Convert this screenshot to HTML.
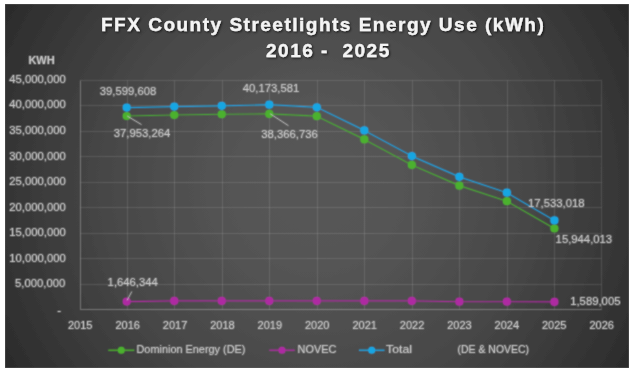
<!DOCTYPE html>
<html><head><meta charset="utf-8"><style>
html,body{margin:0;padding:0;background:#fff;width:634px;height:374px;overflow:hidden}
svg{display:block;will-change:transform;font-family:"Liberation Sans",sans-serif}
</style></head><body>
<svg width="634" height="374" viewBox="0 0 634 374">
<defs>
<radialGradient id="bg" gradientUnits="userSpaceOnUse" cx="317" cy="185.5" r="361">
<stop offset="0.00" stop-color="#575757"/><stop offset="0.20" stop-color="#555555"/><stop offset="0.40" stop-color="#4f4f4f"/><stop offset="0.60" stop-color="#464646"/><stop offset="0.80" stop-color="#393939"/><stop offset="0.90" stop-color="#323232"/><stop offset="1.00" stop-color="#2a2a2a"/>
</radialGradient>
<filter id="sh" x="-10%" y="-50%" width="120%" height="200%"><feGaussianBlur in="SourceAlpha" stdDeviation="0.8"/><feOffset dx="0.8" dy="0.8"/><feComponentTransfer><feFuncA type="linear" slope="0.7"/></feComponentTransfer><feMerge><feMergeNode/><feMergeNode in="SourceGraphic"/></feMerge></filter>
<filter id="soft" x="0" y="0" width="634" height="374" filterUnits="userSpaceOnUse"><feConvolveMatrix order="3" kernelMatrix="1 2 1 2 10 2 1 2 1" preserveAlpha="true" edgeMode="duplicate"/></filter>
</defs>
<g filter="url(#soft)">
<rect x="0" y="0" width="634" height="374" fill="#777777"/>
<rect x="5" y="4" width="624" height="364" fill="url(#bg)"/>
<g>
<g stroke="#ffffff" stroke-opacity="0.11" stroke-width="1"><line x1="80.5" y1="284.5" x2="601.5" y2="284.5"/><line x1="80.5" y1="258.5" x2="601.5" y2="258.5"/><line x1="80.5" y1="233.5" x2="601.5" y2="233.5"/><line x1="80.5" y1="207.5" x2="601.5" y2="207.5"/><line x1="80.5" y1="182.5" x2="601.5" y2="182.5"/><line x1="80.5" y1="156.5" x2="601.5" y2="156.5"/><line x1="80.5" y1="131.5" x2="601.5" y2="131.5"/><line x1="80.5" y1="105.5" x2="601.5" y2="105.5"/><line x1="80.5" y1="80.5" x2="601.5" y2="80.5"/><line x1="127.5" y1="80.5" x2="127.5" y2="309.5"/><line x1="174.5" y1="80.5" x2="174.5" y2="309.5"/><line x1="222.5" y1="80.5" x2="222.5" y2="309.5"/><line x1="269.5" y1="80.5" x2="269.5" y2="309.5"/><line x1="317.5" y1="80.5" x2="317.5" y2="309.5"/><line x1="364.5" y1="80.5" x2="364.5" y2="309.5"/><line x1="412.5" y1="80.5" x2="412.5" y2="309.5"/><line x1="459.5" y1="80.5" x2="459.5" y2="309.5"/><line x1="507.5" y1="80.5" x2="507.5" y2="309.5"/><line x1="554.5" y1="80.5" x2="554.5" y2="309.5"/><line x1="601.5" y1="80.5" x2="601.5" y2="309.5"/></g>
<g stroke="#ffffff" stroke-opacity="0.26" stroke-width="1">
<line x1="80.5" y1="80.5" x2="80.5" y2="309.5"/>
<line x1="80.5" y1="309.5" x2="601.5" y2="309.5"/>
</g>
<g fill="none" stroke-width="1.15" stroke-linejoin="round">
<polyline points="126.72,116.01 174.24,115.01 221.76,114.24 269.28,113.90 316.80,116.18 364.32,139.39 411.84,164.94 459.36,185.64 506.88,201.18 554.40,228.51" stroke="#4AA533"/>
<polyline points="126.72,301.59 174.24,300.90 221.76,300.90 269.28,300.90 316.80,300.90 364.32,300.90 411.84,300.90 459.36,301.72 506.88,301.72 554.40,301.88" stroke="#A62A9A"/>
<polyline points="126.72,107.60 174.24,106.57 221.76,105.81 269.28,104.66 316.80,107.34 364.32,130.39 411.84,156.10 459.36,176.85 506.88,192.70 554.40,220.39" stroke="#1A9BD3"/>
</g>
<circle cx="126.72" cy="116.01" r="4.1" fill="#4CB12E"/><circle cx="174.24" cy="115.01" r="4.1" fill="#4CB12E"/><circle cx="221.76" cy="114.24" r="4.1" fill="#4CB12E"/><circle cx="269.28" cy="113.90" r="4.1" fill="#4CB12E"/><circle cx="316.80" cy="116.18" r="4.1" fill="#4CB12E"/><circle cx="364.32" cy="139.39" r="4.1" fill="#4CB12E"/><circle cx="411.84" cy="164.94" r="4.1" fill="#4CB12E"/><circle cx="459.36" cy="185.64" r="4.1" fill="#4CB12E"/><circle cx="506.88" cy="201.18" r="4.1" fill="#4CB12E"/><circle cx="554.40" cy="228.51" r="4.1" fill="#4CB12E"/><circle cx="126.72" cy="301.59" r="4.1" fill="#AE2AA2"/><circle cx="174.24" cy="300.90" r="4.1" fill="#AE2AA2"/><circle cx="221.76" cy="300.90" r="4.1" fill="#AE2AA2"/><circle cx="269.28" cy="300.90" r="4.1" fill="#AE2AA2"/><circle cx="316.80" cy="300.90" r="4.1" fill="#AE2AA2"/><circle cx="364.32" cy="300.90" r="4.1" fill="#AE2AA2"/><circle cx="411.84" cy="300.90" r="4.1" fill="#AE2AA2"/><circle cx="459.36" cy="301.72" r="4.1" fill="#AE2AA2"/><circle cx="506.88" cy="301.72" r="4.1" fill="#AE2AA2"/><circle cx="554.40" cy="301.88" r="4.1" fill="#AE2AA2"/><circle cx="126.72" cy="107.60" r="4.1" fill="#18A6E3"/><circle cx="174.24" cy="106.57" r="4.1" fill="#18A6E3"/><circle cx="221.76" cy="105.81" r="4.1" fill="#18A6E3"/><circle cx="269.28" cy="104.66" r="4.1" fill="#18A6E3"/><circle cx="316.80" cy="107.34" r="4.1" fill="#18A6E3"/><circle cx="364.32" cy="130.39" r="4.1" fill="#18A6E3"/><circle cx="411.84" cy="156.10" r="4.1" fill="#18A6E3"/><circle cx="459.36" cy="176.85" r="4.1" fill="#18A6E3"/><circle cx="506.88" cy="192.70" r="4.1" fill="#18A6E3"/><circle cx="554.40" cy="220.39" r="4.1" fill="#18A6E3"/>
<g stroke="#c4c4c4" stroke-width="0.9">
<line x1="127.2" y1="116" x2="141.5" y2="124.6"/>
<line x1="270.2" y1="113.8" x2="288.5" y2="125.7"/>
<line x1="127.2" y1="300.3" x2="131.8" y2="291.5"/>
</g>
<g stroke-width="1.3">
<line x1="108.3" y1="350.2" x2="134.3" y2="350.2" stroke="#4CB12E"/>
<line x1="269.3" y1="350.2" x2="294.7" y2="350.2" stroke="#AE2AA2"/>
<line x1="359" y1="350.2" x2="384.5" y2="350.2" stroke="#18A6E3"/>
</g>
<circle cx="121.3" cy="350.2" r="3.5" fill="#4CB12E"/>
<circle cx="282" cy="350.2" r="3.5" fill="#AE2AA2"/>
<circle cx="371.7" cy="350.2" r="3.5" fill="#18A6E3"/>
</g>
<text id="kwh" x="28.40" y="64.00" font-size="11" font-weight="bold" fill="#cdcdcd">KWH</text>
<text id="y1" x="15.00" y="287.34" font-size="11.3" fill="#cdcdcd" stroke="#cdcdcd" stroke-width="0.12">5,000,000</text>
<text id="y2" x="9.20" y="261.79" font-size="11.3" fill="#cdcdcd" stroke="#cdcdcd" stroke-width="0.12">10,000,000</text>
<text id="y3" x="9.20" y="236.23" font-size="11.3" fill="#cdcdcd" stroke="#cdcdcd" stroke-width="0.12">15,000,000</text>
<text id="y4" x="9.20" y="210.68" font-size="11.3" fill="#cdcdcd" stroke="#cdcdcd" stroke-width="0.12">20,000,000</text>
<text id="y5" x="9.20" y="185.12" font-size="11.3" fill="#cdcdcd" stroke="#cdcdcd" stroke-width="0.12">25,000,000</text>
<text id="y6" x="9.20" y="159.56" font-size="11.3" fill="#cdcdcd" stroke="#cdcdcd" stroke-width="0.12">30,000,000</text>
<text id="y7" x="9.20" y="134.01" font-size="11.3" fill="#cdcdcd" stroke="#cdcdcd" stroke-width="0.12">35,000,000</text>
<text id="y8" x="9.20" y="108.45" font-size="11.3" fill="#cdcdcd" stroke="#cdcdcd" stroke-width="0.12">40,000,000</text>
<text id="y9" x="9.20" y="82.90" font-size="11.3" fill="#cdcdcd" stroke="#cdcdcd" stroke-width="0.12">45,000,000</text>
<text id="y0" x="57.30" y="313.50" font-size="11.3" fill="#cdcdcd" stroke="#cdcdcd" stroke-width="0.12">-</text>
<text id="x0" x="68.00" y="328.70" font-size="11" fill="#cdcdcd" stroke="#cdcdcd" stroke-width="0.12">2015</text>
<text id="x1" x="115.40" y="328.70" font-size="11" fill="#cdcdcd" stroke="#cdcdcd" stroke-width="0.12">2016</text>
<text id="x2" x="162.80" y="328.70" font-size="11" fill="#cdcdcd" stroke="#cdcdcd" stroke-width="0.12">2017</text>
<text id="x3" x="210.20" y="328.70" font-size="11" fill="#cdcdcd" stroke="#cdcdcd" stroke-width="0.12">2018</text>
<text id="x4" x="257.60" y="328.70" font-size="11" fill="#cdcdcd" stroke="#cdcdcd" stroke-width="0.12">2019</text>
<text id="x5" x="305.00" y="328.70" font-size="11" fill="#cdcdcd" stroke="#cdcdcd" stroke-width="0.12">2020</text>
<text id="x6" x="352.40" y="328.70" font-size="11" fill="#cdcdcd" stroke="#cdcdcd" stroke-width="0.12">2021</text>
<text id="x7" x="399.80" y="328.70" font-size="11" fill="#cdcdcd" stroke="#cdcdcd" stroke-width="0.12">2022</text>
<text id="x8" x="447.20" y="328.70" font-size="11" fill="#cdcdcd" stroke="#cdcdcd" stroke-width="0.12">2023</text>
<text id="x9" x="494.60" y="328.70" font-size="11" fill="#cdcdcd" stroke="#cdcdcd" stroke-width="0.12">2024</text>
<text id="x10" x="542.00" y="328.70" font-size="11" fill="#cdcdcd" stroke="#cdcdcd" stroke-width="0.12">2025</text>
<text id="x11" x="589.40" y="328.70" font-size="11" fill="#cdcdcd" stroke="#cdcdcd" stroke-width="0.12">2026</text>
<text id="l39" x="99.80" y="94.50" font-size="11.3" fill="#cdcdcd" stroke="#cdcdcd" stroke-width="0.12">39,599,608</text>
<text id="l37" x="113.70" y="137.30" font-size="11.3" fill="#cdcdcd" stroke="#cdcdcd" stroke-width="0.12">37,953,264</text>
<text id="l40" x="242.70" y="91.50" font-size="11.3" fill="#cdcdcd" stroke="#cdcdcd" stroke-width="0.12">40,173,581</text>
<text id="l38" x="261.30" y="137.50" font-size="11.3" fill="#cdcdcd" stroke="#cdcdcd" stroke-width="0.12">38,366,736</text>
<text id="l175" x="528.00" y="206.80" font-size="11.3" fill="#cdcdcd" stroke="#cdcdcd" stroke-width="0.12">17,533,018</text>
<text id="l159" x="555.60" y="242.60" font-size="11.3" fill="#cdcdcd" stroke="#cdcdcd" stroke-width="0.12">15,944,013</text>
<text id="l16" x="107.60" y="285.90" font-size="11.3" fill="#cdcdcd" stroke="#cdcdcd" stroke-width="0.12">1,646,344</text>
<text id="l158" x="570.20" y="305.30" font-size="11.3" fill="#cdcdcd" stroke="#cdcdcd" stroke-width="0.12">1,589,005</text>
<text id="dom" x="136.50" y="352.80" font-size="10.9" fill="#cdcdcd" stroke="#cdcdcd" stroke-width="0.12">Dominion Energy (DE)</text>
<text id="novec" x="297.60" y="352.80" font-size="10.9" fill="#cdcdcd" stroke="#cdcdcd" stroke-width="0.12">NOVEC</text>
<text id="total" x="386.00" y="352.80" font-size="10.9" fill="#cdcdcd" stroke="#cdcdcd" stroke-width="0.12" textLength="26.00" lengthAdjust="spacingAndGlyphs">Total</text>
<text id="denovec" x="457.60" y="352.80" font-size="10.9" fill="#cdcdcd" stroke="#cdcdcd" stroke-width="0.12" textLength="71.40" lengthAdjust="spacingAndGlyphs">(DE &amp; NOVEC)</text>
</g>
<text id="t1" x="101.00" y="30.80" font-size="19" font-weight="bold" fill="#f4f4f4" stroke="#f4f4f4" stroke-width="0.35" letter-spacing="1.5" filter="url(#sh)">FFX County Streetlights Energy Use (kWh)</text>
<text id="t2" x="266.00" y="56.50" font-size="19" font-weight="bold" fill="#f4f4f4" stroke="#f4f4f4" stroke-width="0.35" letter-spacing="1.5" filter="url(#sh)">2016 -  2025</text>
<path fill="#ffffff" fill-rule="evenodd" d="M0 0H634V374H0Z M5 4V368H629V4Z"/>
</svg>
</body></html>
